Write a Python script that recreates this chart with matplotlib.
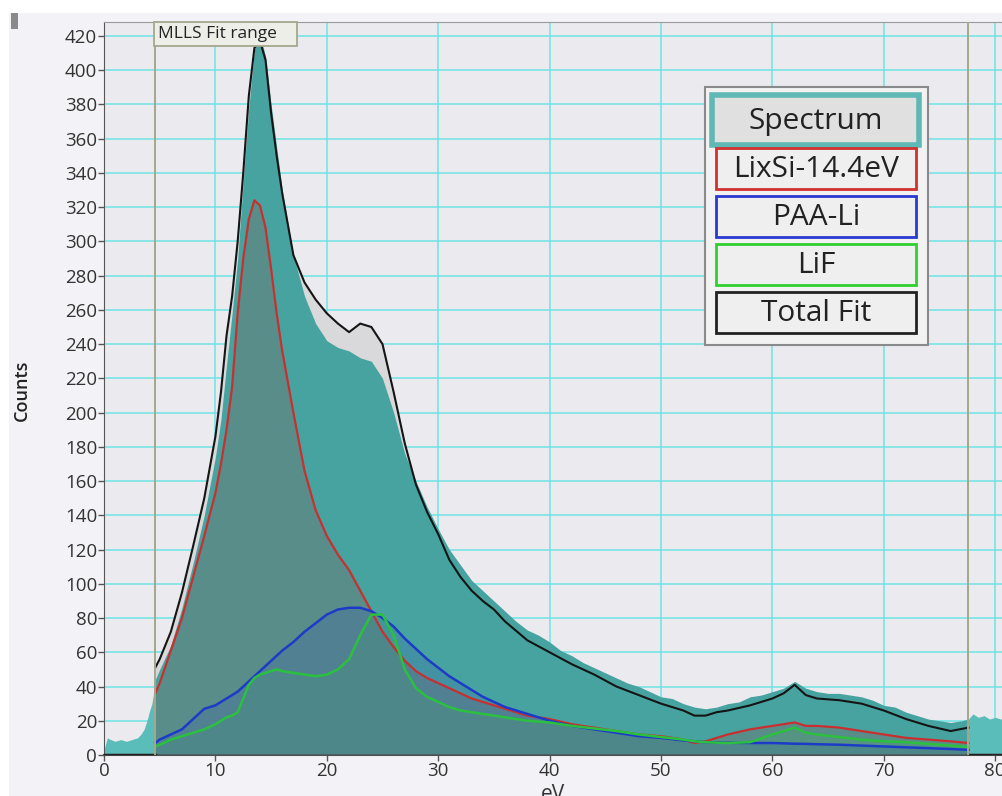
import matplotlib
matplotlib.use("Agg")
import matplotlib.pyplot as plt
from matplotlib.patches import Rectangle
import numpy as np

plt.rcParams['font.family'] = ['Open Sans', 'DejaVu Sans']

W, H = 1003, 796

# ---- data -------------------------------------------------------------
fit_lo, fit_hi = 4.6, 77.6

# energy grid of the MLLS fit components
e_fit = [4.6, 5, 6, 7, 8, 9, 10, 10.5, 11, 11.5, 12, 12.5, 13, 13.5, 14, 14.5,
         15, 15.5, 16, 17, 18, 19, 20, 21, 22, 23, 24, 25, 26, 27, 28, 29, 30,
         31, 32, 33, 34, 35, 36, 38, 40, 42, 44, 46, 48, 50, 52, 53, 54, 55, 56,
         58, 60, 61, 62, 63, 64, 66, 68, 70, 72, 74, 76, 77.6]

lixsi = [36, 42, 61, 80, 104, 128, 153, 170, 190, 215, 258, 290, 313, 324, 321,
         308, 284, 258, 236, 200, 166, 143, 128, 117, 108, 96, 84, 72, 63, 55,
         49, 45, 42, 39, 36, 33, 31, 29, 27, 23, 21, 18, 16, 14, 12, 11, 9, 7,
         8, 10, 12, 15, 17, 18, 19, 17, 17, 16, 14, 12, 10, 9, 8, 7]

paa_li = [7, 9, 12, 15, 21, 27, 29, 31, 33, 35, 37, 40, 43, 46, 49, 52, 55, 58,
          61, 66, 72, 77, 82, 85, 86, 86, 84, 80, 75, 68, 62, 56, 51, 46, 42,
          38, 34, 31, 28, 24, 20, 17, 15, 13, 11, 10, 8.5, 8, 7.5, 7.3, 7.2, 7,
          7, 6.8, 6.6, 6.5, 6.3, 6, 5.5, 5, 4.5, 4, 3.5, 3]

lif = [5, 6, 9, 11, 13, 15, 18, 20, 22, 23, 25, 33, 41, 45, 47, 48, 49, 50, 49,
       48, 47, 46, 47, 50, 56, 70, 82, 82, 70, 50, 39, 34, 31, 28, 26, 25, 24,
       23, 22, 20, 19, 17, 15.5, 14, 12, 10.5, 9, 8, 7.5, 7.2, 7, 7.5, 12, 14,
       16, 13, 12, 10.5, 9, 8, 7.5, 6.5, 5.5, 4.7]

total_fit = [51, 56, 72, 95, 122, 150, 186, 212, 245, 268, 300, 340, 385, 413,
             417, 406, 375, 350, 328, 292, 276, 266, 258, 252, 247, 252, 250,
             240, 212, 182, 158, 142, 129, 114, 104, 96, 90, 85, 78, 67, 60, 53,
             47, 40, 35, 30, 26, 23, 23, 25, 26, 29, 33, 36, 41, 35, 33, 32, 30,
             26, 21, 17, 14, 16]

# measured spectrum (counts per channel)
e_spec = [0, 0.3, 0.6, 1, 1.5, 2, 2.5, 3, 3.3, 3.6, 3.9, 4.1, 4.3, 4.5, 4.6,
          5, 6, 7, 8, 9, 10, 10.5, 11, 11.5, 12, 12.5, 13, 13.5, 14, 14.5, 15,
          15.5, 16, 17, 18, 19, 20, 21, 22, 23, 24, 25, 26, 27, 28, 29, 30, 31,
          32, 33, 34, 35, 36, 37, 38, 39, 40, 41, 42, 43, 44, 45, 46, 47, 48,
          49, 50, 51, 52, 53, 54, 55, 56, 57, 58, 59, 60, 61, 62, 63, 64, 65,
          66, 67, 68, 69, 70, 71, 72, 73, 74, 75, 76, 77, 77.6, 78, 78.5, 79,
          79.5, 80, 80.5, 81, 82]
spectrum = [3, 10, 9, 8, 9, 8, 9, 10, 12, 15, 21, 26, 30, 38, 44,
            50, 64, 86, 112, 140, 174, 196, 228, 258, 290, 335, 378, 412, 421,
            408, 380, 355, 330, 292, 268, 252, 242, 238, 236, 232, 230, 220,
            200, 176, 160, 145, 132, 120, 111, 102, 96, 90, 84, 78, 73, 70, 66,
            61, 58, 54, 51, 48, 45, 42, 40, 37, 34, 33, 30, 28, 27, 28, 30, 31,
            34, 35, 37, 39, 43, 39, 37, 36, 36, 35, 34, 32, 29, 28, 25, 23, 21,
            20, 19, 20, 21, 24, 22, 23, 21, 22, 21, 22, 21]

y_ticks = list(range(0, 421, 20))
x_ticks = list(range(0, 81, 10))
legend_labels = ["Spectrum", "LixSi-14.4eV", "PAA-Li", "LiF", "Total Fit"]
legend_edges = ["#5fb8b3", "#d03030", "#2a3ad0", "#30d030", "#222222"]

# ---- figure -------------------------------------------------------------
fig = plt.figure(figsize=(W / 100, H / 100), dpi=100, facecolor="#f3f3f7")


def fx(px):
    return px / W


def fy(py):
    return 1 - py / H


# white strips at the window border plus the small gray tab
fig.add_artist(Rectangle((0, fy(13)), 1, 13 / H, transform=fig.transFigure,
                         facecolor="white", edgecolor="none", zorder=0))
fig.add_artist(Rectangle((0, 0), 9 / W, 1, transform=fig.transFigure,
                         facecolor="white", edgecolor="none", zorder=0))
fig.add_artist(Rectangle((fx(11), fy(29)), 7 / W, 16 / H,
                         transform=fig.transFigure, facecolor="#8a8a8a",
                         edgecolor="none", zorder=1))

x0_px, y0_px, ytop_px = 104, 755, 22
px_per_ev = 11.14
x_max = 82.0
ax_w = x_max * px_per_ev
ax = fig.add_axes([fx(x0_px), fy(y0_px), ax_w / W, (y0_px - ytop_px) / H])
ax.set_facecolor("#ebebef")
ax.set_xlim(0, x_max)
ax.set_ylim(0, (y0_px - ytop_px) / 1.712)

ax.set_xticks(x_ticks)
ax.set_yticks(y_ticks)
ax.grid(True, color="#6ee2e2", lw=1.1, zorder=0.5)
ax.set_axisbelow(True)
ax.tick_params(axis="both", labelsize=13.5, colors="#555555", length=4,
               width=1, labelcolor="#333333")
ax.tick_params(axis="x", pad=1)
ax.tick_params(axis="y", pad=1)
for side in ["top", "right"]:
    ax.spines[side].set_color("#9a9a9a")
ax.spines["left"].set_color("#555555")
ax.spines["bottom"].set_color("#444444")
ax.spines["bottom"].set_linewidth(1.5)

e_spec_a = np.array(e_spec)
spec_a = np.array(spectrum)
e_fit_a = np.array(e_fit)

# total fit underlay (visible where it exceeds the spectrum)
ax.fill_between(e_fit_a, total_fit, color="#d9d9db", zorder=1, lw=0)

# spectrum: lighter outside the fit window, darker inside
outside_l = e_spec_a <= fit_lo
outside_r = e_spec_a >= fit_hi
inside = (e_spec_a >= fit_lo) & (e_spec_a <= fit_hi)
ax.fill_between(e_spec_a[outside_l], spec_a[outside_l], color="#5bbdba",
                zorder=2, lw=0)
ax.fill_between(e_spec_a[outside_r], spec_a[outside_r], color="#5bbdba",
                zorder=2, lw=0)
ax.fill_between(e_spec_a[inside], spec_a[inside], color="#47a3a0",
                zorder=2, lw=0)

# component fills
ax.fill_between(e_fit_a, lixsi, color="#736e69", alpha=0.40, zorder=3, lw=0)
ax.fill_between(e_fit_a, paa_li, color="#3050b0", alpha=0.20, zorder=3, lw=0)
ax.fill_between(e_fit_a, lif, color="#40c050", alpha=0.12, zorder=3, lw=0)

# component and fit curves
ax.plot(e_fit_a, lixsi, color="#c83030", lw=1.6, zorder=5)
ax.plot(e_fit_a, paa_li, color="#1c3cc8", lw=1.8, zorder=5)
ax.plot(e_fit_a, lif, color="#2cc040", lw=1.8, zorder=5)
ax.plot(e_fit_a, total_fit, color="#151515", lw=1.5, zorder=6)
ax.plot([0, fit_lo], [0, 0], color="#222222", lw=2.5, zorder=6)
ax.plot([fit_hi, x_max], [0, 0], color="#222222", lw=2.5, zorder=6)

# fit window markers
for xv in (fit_lo, fit_hi):
    ax.axvline(xv, color="#a4a88c", lw=1.4, zorder=7)
fig.add_artist(Rectangle((fx(154), fy(46)), 143 / W, 24 / H,
                         transform=fig.transFigure, facecolor="#eeeee8",
                         edgecolor="#a4a88c", lw=1.3, zorder=8))
fig.text(fx(158), fy(34), "MLLS Fit range", fontsize=12.5, color="#222222",
         va="center", ha="left", zorder=9)

# axis titles
fig.text(fx(22), fy(390), "Counts", rotation=90, fontsize=13,
         fontweight="semibold", color="#222222", ha="center", va="center")
fig.text(fx(553), fy(805), "eV", fontsize=15, color="#333333",
         ha="center", va="bottom")

# legend panel
fig.add_artist(Rectangle((fx(705), fy(345)), 223 / W, 258 / H,
                         transform=fig.transFigure, facecolor="#f2f2f2",
                         edgecolor="#8a8a8a", lw=1.5, zorder=10))
boxes = [(712, 95, 919, 145), (716, 148, 916, 189), (716, 196, 916, 237),
         (716, 244, 916, 285), (716, 292, 916, 333)]
for i, (lab, ec, (l, t, r, b)) in enumerate(zip(legend_labels, legend_edges,
                                               boxes)):
    face = "#e0e0e0" if i == 0 else "#efefef"
    lw = 4 if i == 0 else 2
    fig.add_artist(Rectangle((fx(l), fy(b)), (r - l) / W, (b - t) / H,
                             transform=fig.transFigure, facecolor=face,
                             edgecolor=ec, lw=lw, zorder=11))
    fig.text(fx((l + r) / 2), fy((t + b) / 2 + 1), lab, fontsize=21.5,
             color="#222222", ha="center", va="center", zorder=12)

fig.savefig("out.png", dpi=100, facecolor=fig.get_facecolor())
